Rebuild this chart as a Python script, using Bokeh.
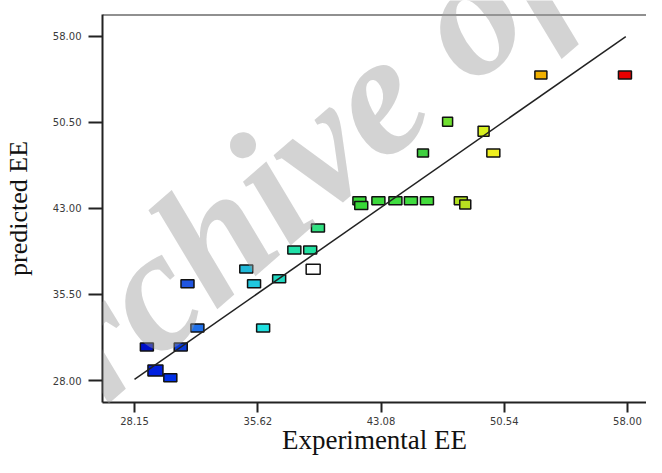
from bokeh.plotting import figure
from bokeh.layouts import column
from bokeh.models import Range1d, Span, Label, FixedTicker, ColumnDataSource, PrintfTickFormatter
from bokeh.embed import file_html
from bokeh.resources import INLINE

# ---- data ----
experimental = [28.90, 29.42, 30.32, 30.95, 31.36, 31.96, 34.92, 35.39, 35.94, 36.91,
                37.83, 38.79, 38.97, 39.26, 41.77, 41.88, 42.92, 43.95, 44.89, 45.86,
                45.62, 47.11, 47.91, 48.18, 49.29, 49.88, 52.76, 57.85]
predicted = [30.92, 28.88, 28.25, 30.92, 36.44, 32.58, 37.72, 36.44, 32.58, 36.86,
             39.38, 39.38, 37.69, 41.30, 43.67, 43.25, 43.67, 43.67, 43.67, 43.67,
             47.83, 50.55, 43.67, 43.33, 49.72, 47.83, 54.63, 54.63]
colors = ["#0010c8", "#0020e0", "#0030e8", "#0a3ad8", "#1f55e0", "#1f6fe8", "#20b8d8", "#20c8e0",
          "#20e0e0", "#20d8c0", "#20e0a8", "#20e0a0", "#ffffff", "#30e080", "#38d838", "#38d838",
          "#3cd83c", "#40dc40", "#40dc40", "#44dc3c", "#40d040", "#70e030", "#b0e020", "#b8e020",
          "#d8f020", "#f0f020", "#f0b000", "#e80000"]
mark_w = [13, 15, 13, 13, 13, 13, 13, 13, 13, 13, 13, 13, 14, 13, 13, 13, 13, 13, 13, 13,
          11, 10, 13, 11, 11, 13, 12, 13]
mark_h = [8, 11, 8, 8, 8, 8, 8, 8, 8, 8, 8, 8, 10, 8, 8, 8, 8, 8, 8, 8,
          8, 9, 8, 9, 10, 8, 8, 8]

fit_x = [28.15, 57.90]
fit_y = [28.10, 57.97]

x_ticks = [28.15, 35.62, 43.08, 50.54, 58.00]
y_ticks = [28.00, 35.50, 43.00, 50.50, 58.00]

watermark_text = "Archive of SID"

W, H = 646, 457
src = ColumnDataSource(dict(x=experimental, y=predicted, c=colors, w=mark_w, h=mark_h))

Y_TOP = 59.89
p = figure(width=W, height=H, output_backend="svg", toolbar_location=None,
           x_range=Range1d(26.213, 59.155), y_range=Range1d(26.09, Y_TOP),
           min_border_left=99, min_border_right=0, min_border_top=14, min_border_bottom=0)
p.outline_line_color = None
p.xgrid.visible = False
p.ygrid.visible = False
p.background_fill_color = "white"
p.border_fill_color = "white"

for ax, ticks in ((p.xaxis[0], x_ticks), (p.yaxis[0], y_ticks)):
    ax.ticker = FixedTicker(ticks=ticks)
    ax.formatter = PrintfTickFormatter(format="%.2f")
    ax.axis_line_width = 2
    ax.axis_line_color = "#222222"
    ax.major_tick_line_width = 2
    ax.major_tick_line_color = "#222222"
    ax.major_tick_in = 0
    ax.minor_tick_line_color = None
    ax.major_label_text_font = "DejaVu Sans"
    ax.major_label_text_font_size = "10px"
    ax.major_label_text_color = "#3a3a3a"
    ax.axis_label_text_font = "Liberation Serif"
    ax.axis_label_text_font_style = "normal"
    ax.axis_label_text_color = "#111111"

p.xaxis.major_tick_out = 10
p.yaxis.major_tick_out = 14
p.xaxis.major_label_standoff = 4
p.yaxis.major_label_standoff = 7
p.xaxis.axis_label = "Experimental EE"
p.yaxis.axis_label = "predicted EE"
p.xaxis.axis_label_text_font_size = "27px"
p.yaxis.axis_label_text_font_size = "26px"
p.xaxis.axis_label_standoff = -3
p.yaxis.axis_label_standoff = 17

p.add_layout(Span(location=Y_TOP, dimension="width", line_color="#222222", line_width=2))

p.rect(x="x", y="y", width="w", height="h", width_units="screen", height_units="screen",
       fill_color="c", line_color="#111111", line_width=1.5, source=src)
p.line(fit_x, fit_y, line_color="#222222", line_width=1.5)

# transparent overlay, carrying the diagonal watermark
wm_fig = figure(width=W, height=H, output_backend="svg", toolbar_location=None,
                x_range=Range1d(0, W), y_range=Range1d(0, H), min_border=0,
                x_axis_type=None, y_axis_type=None, margin=(-H, 0, 0, 0))
wm_fig.background_fill_color = None
wm_fig.border_fill_color = None
wm_fig.outline_line_color = None
wm_fig.grid.visible = False
wm_fig.add_layout(Label(x=-145, y=20, text=watermark_text, angle=0.715,
                        text_align="left", text_baseline="alphabetic",
                        text_font="Liberation Serif", text_font_style="bold italic",
                        text_font_size="173px", text_color="#999999", text_alpha=0.43))

layout = column(p, wm_fig, spacing=0)
open("out.html", "w").write(file_html(layout, INLINE))
